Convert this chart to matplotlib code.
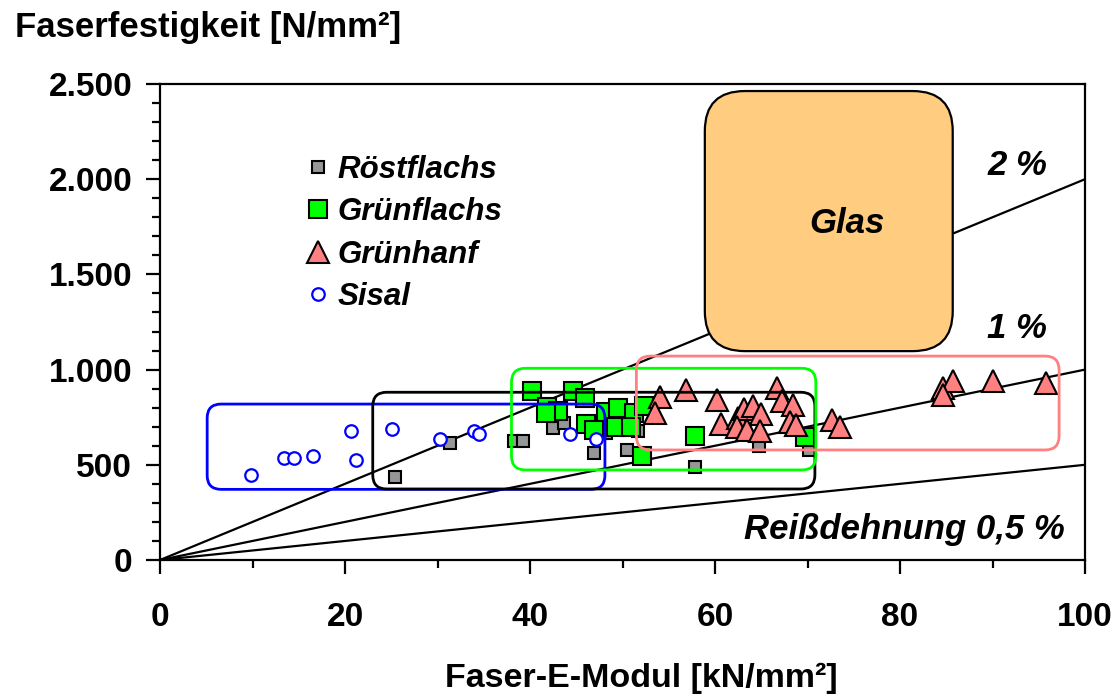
import numpy as np
import matplotlib
matplotlib.use("Agg")
import matplotlib.pyplot as plt
from matplotlib.patches import FancyBboxPatch
from matplotlib.ticker import MultipleLocator, FuncFormatter

plt.rcParams.update({"font.family": "Liberation Sans", "font.size": 24,
                     "font.weight": "bold"})

# E-Modul [kN/mm²] und Festigkeit [N/mm²] je Faserart
roest_E = [25.4, 31.4, 38.3, 39.2, 42.5, 43.7, 46.9, 48.2, 50.5, 51.7, 57.8, 64.8, 70.2]
roest_s = [436, 612, 626, 626, 695, 718, 564, 665, 576, 676, 488, 597, 578]

gruenflachs_E = [40.2, 44.6, 45.9, 41.8, 43.0, 41.7, 46.1, 48.2, 49.5, 51.2,
                 49.3, 50.9, 52.1, 46.9, 52.3, 57.8, 69.7]
gruenflachs_s = [888, 888, 849, 802, 784, 770, 714, 779, 797, 774,
                 700, 700, 546, 683, 810, 651, 648]

hanf_E = [54.1, 53.5, 56.9, 60.2, 60.7, 62.5, 63.1, 64.1, 65.0, 62.4, 63.5, 64.9,
          66.7, 67.2, 68.4, 68.1, 68.8, 72.7, 73.5, 84.7, 85.7, 84.6, 90.1, 95.8]
hanf_s = [854, 770, 891, 838, 714, 748, 794, 807, 767, 697, 684, 678,
          902, 834, 816, 726, 709, 735, 700, 902, 938, 867, 939, 928]

sisal_E = [9.8, 13.4, 14.5, 16.5, 20.7, 21.2, 25.1, 30.3, 33.9, 34.5, 44.3, 47.1]
sisal_s = [446, 534, 534, 548, 676, 524, 688, 637, 676, 662, 663, 636]

# Bruchdehnung als Ursprungsgeraden
strains = [0.02, 0.01, 0.005]
E_line = np.array([0, 100])

# Wertebereiche der Fasergruppen (E_min, E_max, s_min, s_max)
range_sisal = (5.1, 48.1, 371, 819)
range_roest = (23.0, 70.8, 373, 881)
range_gruenflachs = (38.0, 70.9, 473, 1007)
range_hanf = (51.5, 97.2, 578, 1071)
range_glas = (58.9, 85.7, 1097, 2463)

fig = plt.figure(figsize=(11.17, 6.98), dpi=100)
ax = fig.add_axes([160/1117, 138/698, 925/1117, 476/698])
ax.set_xlim(0, 100)
ax.set_ylim(0, 2500)

# pixels per data unit, for circular rounded corners
px_x = 925/100
px_y = 476/2500
aspect = px_x/px_y

def rbox(rng, r_px, ec, fc="none", lw=2.0, z=7):
    x0, x1, y0, y1 = rng
    p = FancyBboxPatch((x0, y0), x1-x0, y1-y0,
                       boxstyle=f"round,pad=0,rounding_size={r_px/px_x}",
                       mutation_aspect=aspect, ec=ec, fc=fc, lw=lw, zorder=z)
    ax.add_patch(p)

for st in strains:
    ax.plot(E_line, E_line*st*1000, color="black", lw=1.6, zorder=2)

ax.plot(roest_E, roest_s, ls="none", marker="s", ms=9, mfc="#969696",
        mec="black", mew=1.5, zorder=3, label="Röstflachs")
ax.plot(gruenflachs_E, gruenflachs_s, ls="none", marker="s", ms=13, mfc="#00FF00",
        mec="black", mew=1.5, zorder=4, label="Grünflachs")
ax.plot(hanf_E, hanf_s, ls="none", marker="^", ms=16, mfc="#FF8080",
        mec="black", mew=1.5, zorder=5, label="Grünhanf")
ax.plot(sisal_E, sisal_s, ls="none", marker="o", ms=9, mfc="white",
        mec="#0000FF", mew=1.6, zorder=6, label="Sisal")

rbox(range_sisal, 14, "#0000FF")
rbox(range_roest, 14, "black")
rbox(range_gruenflachs, 14, "#00FF00")
rbox(range_hanf, 14, "#FF8080")
rbox(range_glas, 40, "black", fc="#FFCC80", lw=1.6)

ax.text(74.3, 1765, "Glas", ha="center", va="center", style="italic", fontsize=25, zorder=8)
ax.text(92.7, 2074, "2 %", ha="center", va="center", style="italic", fontsize=25)
ax.text(92.6, 1218, "1 %", ha="center", va="center", style="italic", fontsize=25)
ax.text(97.8, 158, "Reißdehnung 0,5 %", ha="right", va="center", style="italic", fontsize=25)

leg = ax.legend(loc="upper left", bbox_to_anchor=(0.158, 0.851), frameon=False,
                borderaxespad=0, borderpad=0, handlelength=0.75, handletextpad=0.25,
                labelspacing=0.4, prop={"style": "italic", "weight": "bold", "size": 22.5})

ax.xaxis.set_major_locator(MultipleLocator(20))
ax.xaxis.set_minor_locator(MultipleLocator(10))
ax.yaxis.set_major_locator(MultipleLocator(500))
ax.yaxis.set_minor_locator(MultipleLocator(100))
ax.yaxis.set_major_formatter(FuncFormatter(lambda v, p: f"{int(v):,}".replace(",", ".")))
ax.tick_params(which="major", direction="out", length=10, width=1.6, labelsize=24)
ax.tick_params(which="minor", direction="out", length=6, width=1.6)
ax.tick_params(axis="x", which="major", pad=20)
ax.tick_params(axis="y", which="major", pad=10)
for sp in ax.spines.values():
    sp.set_linewidth(1.6)

ax.set_xlabel("Faser-E-Modul [kN/mm²]", fontsize=24.5, fontweight="bold")
ax.xaxis.set_label_coords(0.52, -0.215)
fig.text(15/1117, 1-37/698, "Faserfestigkeit [N/mm²]", fontsize=25, fontweight="bold",
         ha="left", va="baseline")

fig.savefig("out.png", dpi=100)
